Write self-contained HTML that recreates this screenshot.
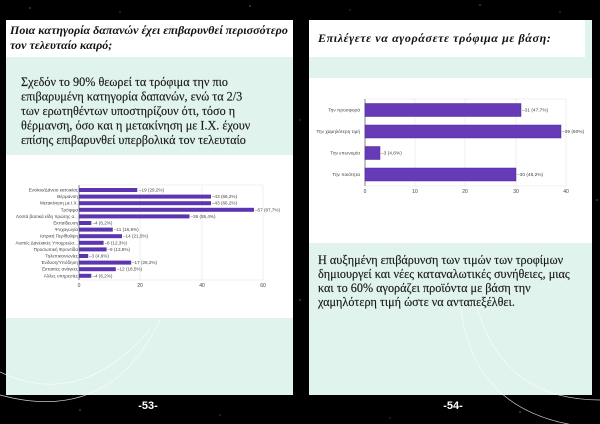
<!DOCTYPE html>
<html><head><meta charset="utf-8"><style>
html,body{margin:0;padding:0;background:#000;}
svg{display:block}
.s{font-family:"Liberation Serif","DejaVu Serif",serif;}
.a{font-family:"Liberation Sans",sans-serif;}
</style></head><body>
<svg width="600" height="424" viewBox="0 0 600 424" xmlns="http://www.w3.org/2000/svg">
<rect width="600" height="424" fill="#000"/>
<g fill="#fff" opacity="0.6">
<circle cx="30" cy="8" r="0.6"/><circle cx="120" cy="12" r="0.5"/><circle cx="250" cy="6" r="0.6"/><circle cx="350" cy="10" r="0.5"/><circle cx="480" cy="5" r="0.6"/><circle cx="560" cy="12" r="0.5"/><circle cx="80" cy="410" r="0.6"/><circle cx="220" cy="415" r="0.5"/><circle cx="300" cy="300" r="0.6"/><circle cx="390" cy="418" r="0.5"/><circle cx="520" cy="412" r="0.6"/><circle cx="597" cy="200" r="0.6"/><circle cx="300" cy="120" r="0.5"/>
</g>
<!-- Left page -->
<rect x="6" y="20" width="287" height="375" fill="#e0f3ec"/>
<rect x="6" y="20" width="287" height="37" fill="#fff"/>
<rect x="6" y="155" width="287" height="163" fill="#fff"/>
<text class="s" x="10" y="34" font-size="12" font-style="italic" font-weight="bold" fill="#111">Ποια κατηγορία δαπανών έχει επιβαρυνθεί περισσότερο</text>
<text class="s" x="10" y="49" font-size="12" font-style="italic" font-weight="bold" fill="#111">τον τελευταίο καιρό;</text>
<g class="s" font-size="12.2" fill="#1a1a1a" stroke="#1a1a1a" stroke-width="0.15">
<text x="21" y="86">Σχεδόν το 90% θεωρεί τα τρόφιμα την πιο</text>
<text x="21" y="100.5">επιβαρυμένη κατηγορία δαπανών, ενώ τα 2/3</text>
<text x="21" y="115">των ερωτηθέντων υποστηρίζουν ότι, τόσο η</text>
<text x="21" y="129.5">θέρμανση, όσο και η μετακίνηση με Ι.Χ. έχουν</text>
<text x="21" y="144">επίσης επιβαρυνθεί υπερβολικά τον τελευταίο</text>
</g>
<g stroke="#e4e4e4" stroke-width="0.6">
<line x1="140" y1="185" x2="140" y2="280"/><line x1="202" y1="185" x2="202" y2="280"/><line x1="263" y1="185" x2="263" y2="280"/>
<line x1="79" y1="185" x2="263" y2="185"/><line x1="79" y1="280" x2="263" y2="280"/>
</g>
<line x1="79" y1="185" x2="79" y2="280" stroke="#333" stroke-width="0.6"/>
<g class="a" font-size="4.6" fill="#444">
<g text-anchor="end">
<text x="78" y="191.5">Ενοίκιο/Δάνειο κατοικίας</text>
<text x="78" y="198">Θέρμανση</text>
<text x="78" y="204.7">Μετακίνηση με Ι.Χ.</text>
<text x="78" y="211.3">Τρόφιμα</text>
<text x="78" y="217.9">Λοιπά βασικά είδη πρώτης α...</text>
<text x="78" y="224.5">Εκπαίδευση</text>
<text x="78" y="231.1">Ψυχαγωγία</text>
<text x="78" y="237.7">Ιατρική Περίθαλψη</text>
<text x="78" y="244.3">Λοιπές Δανειακές Υποχρεώσ...</text>
<text x="78" y="250.9">Προσωπική Φροντίδα</text>
<text x="78" y="257.5">Τηλεπικοινωνίες</text>
<text x="78" y="264.1">Ένδυση/Υπόδηση</text>
<text x="78" y="270.7">Έκτακτες ανάγκες</text>
<text x="78" y="277.3">Άλλες υπηρεσίες</text>
</g>
<g fill="#5e35b1">
<rect x="79" y="188" width="58.3" height="4"/>
<rect x="79" y="194.6" width="132" height="4"/>
<rect x="79" y="201.2" width="132" height="4"/>
<rect x="79" y="207.8" width="175" height="4"/>
<rect x="79" y="214.4" width="110.5" height="4"/>
<rect x="79" y="221" width="12.3" height="4"/>
<rect x="79" y="227.6" width="33.8" height="4"/>
<rect x="79" y="234.2" width="43" height="4"/>
<rect x="79" y="240.8" width="24.6" height="4"/>
<rect x="79" y="247.4" width="27.6" height="4"/>
<rect x="79" y="254" width="9.2" height="4"/>
<rect x="79" y="260.6" width="52.2" height="4"/>
<rect x="79" y="267.2" width="36.8" height="4"/>
<rect x="79" y="273.8" width="12.3" height="4"/>
</g>
<text x="139" y="191.5">–19 (29,2%)</text>
<text x="212" y="198">–43 (66,2%)</text>
<text x="212" y="204.7">–43 (66,2%)</text>
<text x="255" y="211.3">–57 (87,7%)</text>
<text x="190.5" y="217.9">–36 (55,4%)</text>
<text x="92.5" y="224.5">–4 (6,2%)</text>
<text x="114" y="231.1">–11 (16,9%)</text>
<text x="123" y="237.7">–14 (21,5%)</text>
<text x="104.5" y="244.3">–8 (12,3%)</text>
<text x="107.5" y="250.9">–9 (13,8%)</text>
<text x="89" y="257.5">–3 (4,6%)</text>
<text x="132" y="264.1">–17 (26,2%)</text>
<text x="117" y="270.7">–12 (18,5%)</text>
<text x="92.5" y="277.3">–4 (6,2%)</text>
<g text-anchor="middle" font-size="5"><text x="79" y="287">0</text><text x="140" y="287">20</text><text x="202" y="287">40</text><text x="263" y="287">60</text></g>
</g>
<!-- Right page -->
<rect x="309" y="20" width="283" height="375" fill="#e0f3ec"/>
<rect x="309" y="20" width="276" height="37" fill="#fff"/>
<rect x="309" y="78" width="283" height="165" fill="#fff"/>
<text class="s" x="318" y="42" font-size="12" font-style="italic" font-weight="bold" fill="#111" letter-spacing="0.6">Επιλέγετε να αγοράσετε τρόφιμα με βάση:</text>
<g stroke="#e4e4e4" stroke-width="0.6">
<line x1="415" y1="99" x2="415" y2="186"/><line x1="465" y1="99" x2="465" y2="186"/><line x1="516" y1="99" x2="516" y2="186"/><line x1="566" y1="99" x2="566" y2="186"/>
<line x1="365" y1="99" x2="566" y2="99"/><line x1="365" y1="186" x2="566" y2="186"/>
</g>
<line x1="365" y1="99" x2="365" y2="186" stroke="#333" stroke-width="0.6"/>
<g fill="#673ab7" stroke="#4a2a9a" stroke-width="0.5">
<rect x="365" y="103.5" width="156" height="13"/>
<rect x="365" y="125" width="196" height="13"/>
<rect x="365" y="146.5" width="15" height="13"/>
<rect x="365" y="168" width="151" height="13"/>
</g>
<g class="a" font-size="4.8" fill="#444">
<g text-anchor="end">
<text x="360" y="111.5">Την προσφορά</text>
<text x="360" y="133">Την χαμηλότερη τιμή</text>
<text x="360" y="154.5">Την επωνυμία</text>
<text x="360" y="176">Την ποιότητα</text>
</g>
<text x="522" y="111.5">–31 (47,7%)</text>
<text x="562" y="133">–39 (60%)</text>
<text x="381" y="154.5">–3 (4,6%)</text>
<text x="517" y="176">–30 (46,2%)</text>
<g text-anchor="middle" font-size="5"><text x="365" y="193">0</text><text x="415" y="193">10</text><text x="465" y="193">20</text><text x="516" y="193">30</text><text x="566" y="193">40</text></g>
</g>
<g class="s" font-size="12.2" fill="#1a1a1a" stroke="#1a1a1a" stroke-width="0.15">
<text x="318" y="264">Η αυξημένη επιβάρυνση των τιμών των τροφίμων</text>
<text x="318" y="278">δημιουργεί και νέες καταναλωτικές συνήθειες, μιας</text>
<text x="318" y="292">και το 60% αγοράζει προϊόντα με βάση την</text>
<text x="318" y="306">χαμηλότερη τιμή ώστε να ανταπεξέλθει.</text>
</g>
<!-- decorative arcs -->
<g fill="none" stroke="#fff" stroke-width="0.7" opacity="0.8">
<path d="M0 372 Q80 410 150 330"/>
<path d="M0 395 Q110 425 160 320"/>
<path d="M600 428 Q470 420 460 300"/>
<path d="M600 400 Q500 400 475 300"/>
</g>
<g class="a" font-size="11" font-weight="bold" fill="#fff" text-anchor="middle">
<text x="148" y="409">-53-</text>
<text x="453" y="409">-54-</text>
</g>
</svg>
</body></html>
